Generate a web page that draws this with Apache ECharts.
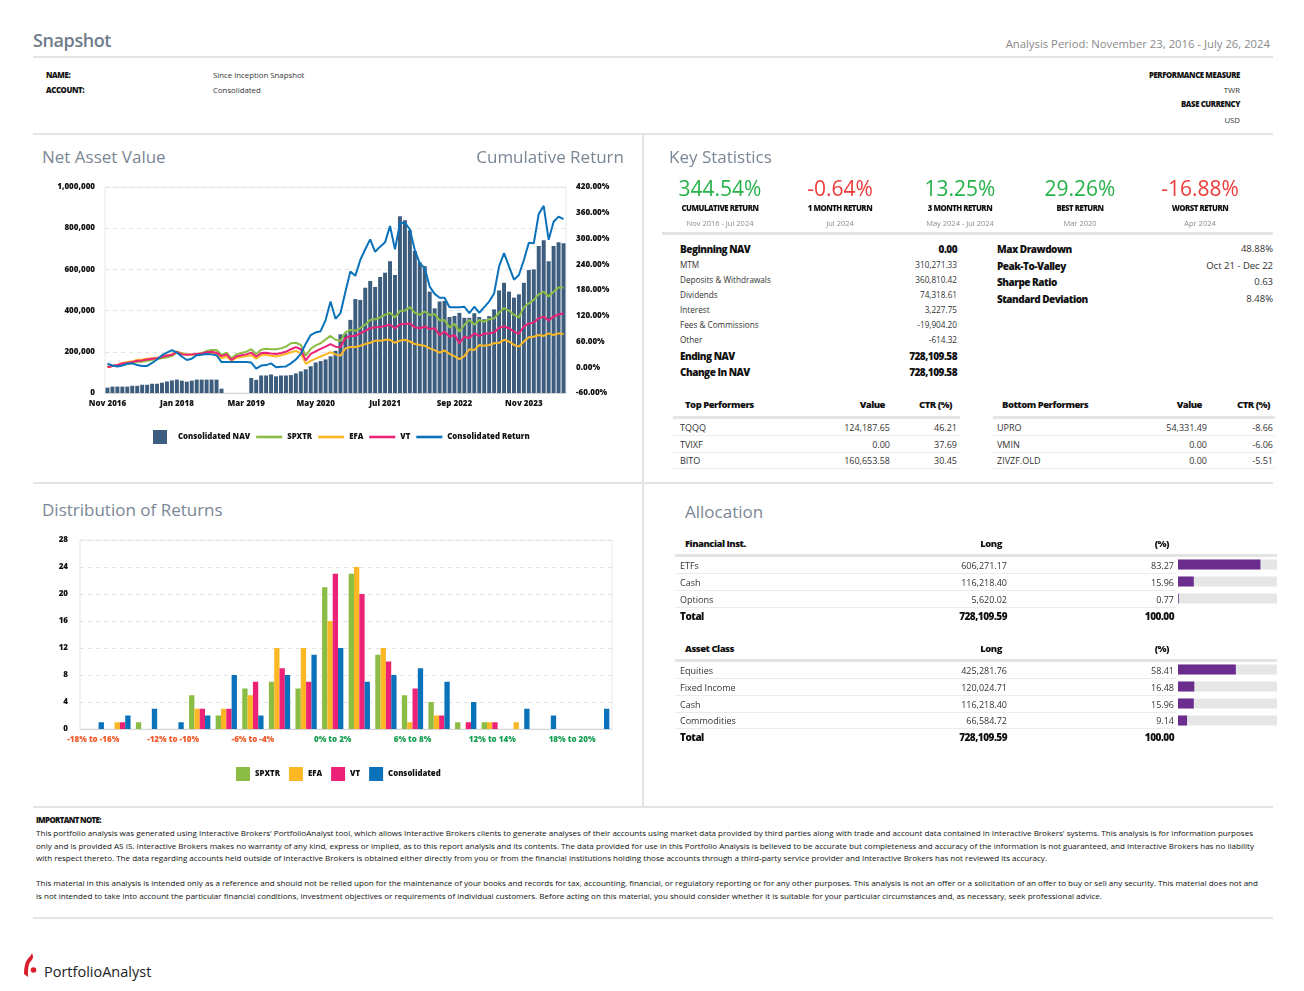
<!DOCTYPE html>
<html><head><meta charset="utf-8">
<script src="https://cdn.jsdelivr.net/npm/echarts@6/dist/echarts.min.js"></script>
<style>
html,body{margin:0;padding:0}
body{width:1304px;height:991px;background:#fff;font-family:'Open Sans',sans-serif;position:relative;overflow:hidden;color:#222}
.ln{position:absolute;background:#e4e4e4}
.ch{position:absolute}
</style></head>
<body>
<div id="nav" class="ch" style="left:33px;top:175px;width:610px;height:275px"></div>
<div id="dist" class="ch" style="left:33px;top:530px;width:607px;height:260px"></div>
<div id="allocFin" class="ch" style="left:1178px;top:556px;width:100px;height:51px"></div>
<div id="allocAsset" class="ch" style="left:1178px;top:661px;width:100px;height:68px"></div>
<svg style="position:absolute;left:20px;top:950px" width="20" height="32" viewBox="0 0 20 32">
  <path d="M12 3 C13 6 14 8 11 11 C8 14 8 20 8 27 L4 24 C4 18 5 13 7 10 C9 7 11 6 12 3 Z" fill="#d81e2a"/>
  <circle cx="13.5" cy="20" r="2.8" fill="#d81e2a"/>
</svg>
<script>
// ---------------- DATA ----------------
const monthNames = ['Jan','Feb','Mar','Apr','May','Jun','Jul','Aug','Sep','Oct','Nov','Dec'];
const months = [];
for (let i = 0; i < 93; i++) { const m = (10 + i) % 12; const y = 2016 + Math.floor((10 + i) / 12); months.push(monthNames[m] + ' ' + y); }

const navValues = [26000,31000,31000,31000,31000,35000,35000,40000,40000,45000,45000,50000,56000,61000,65000,60000,55000,60000,65000,65000,65000,65000,65000,21000,
0,0,0,0,0,
73000,64000,85000,85000,90000,81000,85000,85000,87000,95000,105000,115000,130000,148000,155000,163000,178000,205000,
285000,289000,355000,456000,452000,511000,544000,515000,563000,584000,640000,573000,
858000,839000,790000,689000,635000,616000,492000,411000,444000,447000,369000,374000,389000,365000,365000,387000,369000,358000,373000,406000,498000,535000,492000,463000,479000,535000,597000,600000,713000,742000,640000,713000,732000,727000];

const consReturn = [8,4,2,4,8,9,5,3,3,10,18,28,34,40,34,25,17,20,28,29,31,30,28,12,12,12,12,12,12,11,-3,4,5,9,0,1,2,9,18,31,55,75,81,84,110,153,113,126,176,223,213,250,275,298,269,281,291,329,275,335,337,321,273,242,231,188,171,162,162,140,140,140,141,126,141,127,140,153,172,235,266,235,204,215,250,290,289,357,376,297,339,351,345];
const spxtrReturn = [1,3,5,7,8,10,12,13,15,17,19,21,23,26,35,33,30,29,31,33,38,40,40,29,34,21,30,33,36,42,31,41,43,42,42,44,48,56,57,52,27,43,51,56,65,73,64,61,81,87,85,91,99,110,112,116,122,127,116,131,132,140,127,122,130,122,124,109,110,93,101,83,99,110,99,110,106,112,114,127,138,132,122,116,140,149,157,170,176,165,176,186,186];
const vtReturn = [0,3,5,9,10,12,15,16,18,20,21,24,27,29,36,30,29,30,31,32,35,36,34,26,30,17,25,28,30,34,25,33,34,32,31,33,36,42,47,42,16,31,37,43,48,54,48,47,68,73,73,79,85,91,93,94,96,99,91,100,101,102,93,91,95,89,91,75,83,71,75,56,71,68,79,73,78,79,81,92,95,91,83,78,95,102,104,114,118,109,118,123,126];
const efaReturn = [0,3,6,10,12,14,17,18,20,21,22,25,28,30,37,31,29,30,30,31,32,32,30,21,25,15,22,24,26,28,20,28,29,27,25,28,31,35,38,33,8,15,20,25,30,35,30,27,44,47,47,50,54,57,62,62,64,64,57,62,64,60,54,52,50,44,40,34,39,31,26,19,26,42,40,52,50,52,56,57,64,60,52,48,60,70,71,75,73,79,75,79,77];

const navTicks = [0, 200000, 400000, 600000, 800000, 1000000];

const distCats = ['-18% to -16%','-16% to -14%','-14% to -12%','-12% to -10%','-10% to -8%','-8% to -6%','-6% to -4%','-4% to -2%','-2% to 0%','0% to 2%','2% to 4%','4% to 6%','6% to 8%','8% to 10%','10% to 12%','12% to 14%','14% to 16%','16% to 18%','18% to 20%','20% to 22%'];
const distSpxtr = [0,0,1,0,5,2,6,7,6,21,23,11,5,4,1,1,0,0,0,0];
const distEfa   = [0,1,0,0,3,3,5,12,12,16,24,12,1,2,0,1,1,0,0,0];
const distVt    = [0,1,0,0,3,3,7,9,7,23,20,10,6,2,1,1,0,0,0,0];
const distCons  = [1,2,3,1,2,8,2,8,11,12,7,8,9,7,4,0,3,2,0,3];

const finInst = ['ETFs','Cash','Options'];
const finLong = ['606,271.17','116,218.40','5,620.02'];
const finPct = [83.27, 15.96, 0.77];
const assetClass = ['Equities','Fixed Income','Cash','Commodities'];
const assetLong = ['425,281.76','120,024.71','116,218.40','66,584.72'];
const assetPct = [58.41, 16.48, 15.96, 9.14];

const keyStats = [
  ['344.54%','CUMULATIVE RETURN','Nov 2016 - Jul 2024','#27b24a'],
  ['-0.64%','1 MONTH RETURN','Jul 2024','#ec3b3b'],
  ['13.25%','3 MONTH RETURN','May 2024 - Jul 2024','#27b24a'],
  ['29.26%','BEST RETURN','Mar 2020','#27b24a'],
  ['-16.88%','WORST RETURN','Apr 2024','#ec3b3b']
];
const navRows = [
  ['Beginning NAV','0.00',true],['MTM','310,271.33',false],['Deposits & Withdrawals','360,810.42',false],
  ['Dividends','74,318.61',false],['Interest','3,227.75',false],['Fees & Commissions','-19,904.20',false],
  ['Other','-614.32',false],['Ending NAV','728,109.58',true],['Change In NAV','728,109.58',true]
];
const riskRows = [['Max Drawdown','48.88%'],['Peak-To-Valley','Oct 21 - Dec 22'],['Sharpe Ratio','0.63'],['Standard Deviation','8.48%']];
const topPerf = [['TQQQ','124,187.65','46.21'],['TVIXF','0.00','37.69'],['BITO','160,653.58','30.45']];
const bottomPerf = [['UPRO','54,331.49','-8.66'],['VMIN','0.00','-6.06'],['ZIVZF.OLD','0.00','-5.51']];

// ---------------- HELPERS ----------------
function txt(x, y, s, o) {
  o = o || {};
  const size = o.size || 9;
  const d = document.createElement('div');
  d.textContent = s;
  d.style.cssText = 'position:absolute;white-space:nowrap;font-family:' + (o.f || "'Open Sans',sans-serif") +
    ';font-size:' + size + 'px;line-height:' + Math.round(size * 1.4) + 'px;font-weight:' + (o.w || 400) +
    ';color:' + (o.c || '#222') + ';letter-spacing:' + (o.ls || 0) + 'px;top:' + (y - size * 0.7) + 'px;';
  if (o.a === 'right') d.style.right = (1304 - x) + 'px';
  else if (o.a === 'center') { d.style.left = x + 'px'; d.style.transform = 'translateX(-50%)'; }
  else d.style.left = x + 'px';
  document.body.appendChild(d);
  return d;
}
function line(x1, x2, y, h, c) {
  const d = document.createElement('div'); d.className = 'ln';
  d.style.cssText += 'left:' + x1 + 'px;top:' + y + 'px;width:' + (x2 - x1) + 'px;height:' + h + 'px;background:' + (c || '#e4e4e4');
  document.body.appendChild(d);
}
function vline(x, y1, y2, w, c) {
  const d = document.createElement('div'); d.className = 'ln';
  d.style.cssText += 'left:' + x + 'px;top:' + y1 + 'px;width:' + w + 'px;height:' + (y2 - y1) + 'px;background:' + (c || '#e4e4e4');
  document.body.appendChild(d);
}
const titleC = '#7a8795';
const HB = 800; // heavy bold weight

// ---------------- HEADER ----------------
txt(33, 41, 'Snapshot', {size:18, w:600, c:'#6f7c8a', ls:-0.4});
txt(1270, 44, 'Analysis Period: November 23, 2016 - July 26, 2024', {size:11.3, c:'#8a8a8a', a:'right'});
line(33, 1273, 56, 2);
txt(46, 75, 'NAME:', {size:7.8, w:HB, ls:-0.4, c:'#111'});
txt(46, 90, 'ACCOUNT:', {size:7.8, w:HB, ls:-0.4, c:'#111'});
txt(213, 75, 'Since Inception Snapshot', {size:7.8, c:'#333'});
txt(213, 90, 'Consolidated', {size:7.8, c:'#333'});
txt(1240, 75, 'PERFORMANCE MEASURE', {size:7.8, w:HB, ls:-0.4, c:'#111', a:'right'});
txt(1240, 90, 'TWR', {size:7.8, c:'#333', a:'right'});
txt(1240, 104, 'BASE CURRENCY', {size:7.8, w:HB, ls:-0.4, c:'#111', a:'right'});
txt(1240, 120, 'USD', {size:7.8, c:'#333', a:'right'});
line(33, 1273, 133, 2);
vline(642, 135, 806, 2);
line(33, 1273, 482, 2);
line(33, 1273, 806, 2);
line(33, 1273, 917, 2);

// ---------------- SECTION TITLES ----------------
txt(42, 157, 'Net Asset Value', {size:17, c:titleC});
txt(624, 157, 'Cumulative Return', {size:17, c:titleC, a:'right'});
txt(669, 157, 'Key Statistics', {size:17, c:titleC});
txt(42, 510, 'Distribution of Returns', {size:17, c:titleC});
txt(685, 512, 'Allocation', {size:17, c:titleC});

// ---------------- KEY STATS ----------------
keyStats.forEach((k, i) => {
  const cx = 720 + i * 120;
  txt(cx, 189, k[0], {size:21, c:k[3], a:'center', w:400});
  txt(cx, 208, k[1], {size:7.8, w:HB, ls:-0.5, c:'#111', a:'center'});
  txt(cx, 223, k[2], {size:7.5, c:'#8c8c8c', a:'center'});
});
line(662, 1273, 232, 3);
const navY = [249, 265, 280, 295, 310, 325, 340, 356, 372];
navRows.forEach((r, i) => {
  if (r[2]) { txt(680, navY[i], r[0], {size:10, w:HB, ls:-0.5, c:'#111'}); txt(957, navY[i], r[1], {size:10, w:HB, ls:-0.5, c:'#111', a:'right'}); }
  else { txt(680, navY[i], r[0], {size:8.2, c:'#333'}); txt(957, navY[i], r[1], {size:8.2, c:'#333', a:'right'}); }
});
const riskY = [249, 266, 282, 299];
riskRows.forEach((r, i) => {
  txt(997, riskY[i], r[0], {size:10, w:HB, ls:-0.5, c:'#111'});
  txt(1273, riskY[i], r[1], {size:9.5, c:'#333', a:'right'});
});
// performers
txt(685, 405, 'Top Performers', {size:9.5, w:HB, ls:-0.5, c:'#111'});
txt(885, 405, 'Value', {size:9.5, w:HB, ls:-0.5, c:'#111', a:'right'});
txt(952, 405, 'CTR (%)', {size:9.5, w:HB, ls:-0.5, c:'#111', a:'right'});
line(673, 960, 416, 3);
txt(1002, 405, 'Bottom Performers', {size:9.5, w:HB, ls:-0.5, c:'#111'});
txt(1202, 405, 'Value', {size:9.5, w:HB, ls:-0.5, c:'#111', a:'right'});
txt(1270, 405, 'CTR (%)', {size:9.5, w:HB, ls:-0.5, c:'#111', a:'right'});
line(993, 1275, 416, 3);
const perfY = [427, 444, 460];
perfY.forEach((y, i) => {
  txt(680, y, topPerf[i][0], {size:9, c:'#333'});
  txt(890, y, topPerf[i][1], {size:9, c:'#333', a:'right'});
  txt(957, y, topPerf[i][2], {size:9, c:'#333', a:'right'});
  txt(997, y, bottomPerf[i][0], {size:9, c:'#333'});
  txt(1207, y, bottomPerf[i][1], {size:9, c:'#333', a:'right'});
  txt(1273, y, bottomPerf[i][2], {size:9, c:'#333', a:'right'});
  line(673, 960, y + 8, 1, '#ececec');
  line(993, 1275, y + 8, 1, '#ececec');
});

// ---------------- ALLOCATION TABLES ----------------
function allocTable(headY, title, names, longs, pcts, rowY, totalY) {
  txt(685, headY, title, {size:9.5, w:HB, ls:-0.5, c:'#111'});
  txt(1002, headY, 'Long', {size:9.5, w:HB, ls:-0.5, c:'#111', a:'right'});
  txt(1169, headY, '(%)', {size:9.5, w:HB, ls:-0.5, c:'#111', a:'right'});
  line(675, 1277, headY + 10, 3);
  names.forEach((n, i) => {
    txt(680, rowY[i], n, {size:9, c:'#333'});
    txt(1007, rowY[i], longs[i], {size:9, c:'#333', a:'right'});
    txt(1174, rowY[i], pcts[i].toFixed(2), {size:9, c:'#333', a:'right'});
    line(675, 1176, rowY[i] + 8, 1, '#ececec');
  });
  txt(680, totalY, 'Total', {size:10, w:HB, ls:-0.5, c:'#111'});
  txt(1007, totalY, '728,109.59', {size:10, w:HB, ls:-0.5, c:'#111', a:'right'});
  txt(1174, totalY, '100.00', {size:10, w:HB, ls:-0.5, c:'#111', a:'right'});
}
allocTable(544, 'Financial Inst.', finInst, finLong, finPct, [565, 582, 599], 616);
allocTable(649, 'Asset Class', assetClass, assetLong, assetPct, [670, 687, 704, 720], 737);

// ---------------- FOOTER ----------------
txt(36, 820, 'IMPORTANT NOTE:', {size:7.8, w:HB, ls:-0.6, c:'#111'});
const footLines = [
  [833, 1253, "This portfolio analysis was generated using Interactive Brokers' PortfolioAnalyst tool, which allows Interactive Brokers clients to generate analyses of their accounts using market data provided by third parties along with trade and account data contained in Interactive Brokers' systems. This analysis is for information purposes"],
  [846, 1254, "only and is provided AS IS. Interactive Brokers makes no warranty of any kind, express or implied, as to this report analysis and its contents. The data provided for use in this Portfolio Analysis is believed to be accurate but completeness and accuracy of the information is not guaranteed, and Interactive Brokers has no liability"],
  [858, 1047, "with respect thereto. The data regarding accounts held outside of Interactive Brokers is obtained either directly from you or from the financial institutions holding those accounts through a third-party service provider and Interactive Brokers has not reviewed its accuracy."],
  [883, 1258, "This material in this analysis is intended only as a reference and should not be relied upon for the maintenance of your books and records for tax, accounting, financial, or regulatory reporting or for any other purposes. This analysis is not an offer or a solicitation of an offer to buy or sell any security. This material does not and"],
  [896, 1102, "is not intended to take into account the particular financial conditions, investment objectives or requirements of individual customers. Before acting on this material, you should consider whether it is suitable for your particular circumstances and, as necessary, seek professional advice."]
];
footLines.forEach(f => {
  const d = txt(36, f[0], f[2], {size:7.8, c:'#111'});
  const w = d.getBoundingClientRect().width;
  const target = f[1] - 36;
  d.style.transformOrigin = '0 50%';
  d.style.transform = 'scaleX(' + (target / w).toFixed(4) + ')';
});
txt(44, 972, 'PortfolioAnalyst', {size:14.5, c:'#222'});

// ---------------- NAV CHART ----------------
const axisFont = {fontFamily:'Open Sans', fontSize:8, fontWeight:800, color:'#111'};
const C = {nav:'#3d5d7e', spx:'#8bbd45', efa:'#fbb724', vt:'#ec2277', cons:'#0a72bb'};
const navChart = echarts.init(document.getElementById('nav'), null, {renderer:'canvas'});
function lineSeries(name, data, color) {
  return {name:name, type:'line', yAxisIndex:1, data:data, symbol:'none', showSymbol:false, lineStyle:{width:2, color:color}, itemStyle:{color:color}};
}
const lineIcon = 'path://M0,0H26V2.6H0Z';
navChart.setOption({
  animation:false,
  textStyle:{fontFamily:'Open Sans'},
  grid:{left:72, right:77, top:12, bottom:57, show:true, borderColor:'#e8e8e8', borderWidth:1},
  legend:{
    left:115, top:250, itemWidth:26, itemHeight:14, itemGap:6,
    textStyle:{fontFamily:'Open Sans', fontSize:7.8, fontWeight:800, color:'#111'},
    data:[{name:'Consolidated NAV', icon:'path://M0,0H14V14H0Z'},
      {name:'SPXTR', icon:lineIcon}, {name:'EFA', icon:lineIcon}, {name:'VT', icon:lineIcon}, {name:'Consolidated Return', icon:lineIcon}]
  },
  xAxis:{type:'category', data:months, boundaryGap:true,
    axisTick:{show:false}, axisLine:{lineStyle:{color:'#d5d5d5'}},
    axisLabel:Object.assign({interval:13, margin:7}, axisFont)},
  yAxis:[
    {type:'value', min:navTicks[0], max:navTicks[navTicks.length-1], interval:navTicks[1]-navTicks[0],
     axisLabel:Object.assign({margin:10, formatter:v => v.toLocaleString('en-US')}, axisFont),
     axisLine:{show:false}, axisTick:{show:false},
     splitLine:{lineStyle:{type:[4,4], color:'#e2e2e2'}}},
    {type:'value', min:-60, max:420, interval:60,
     axisLabel:Object.assign({margin:10, formatter:v => v.toFixed(2) + '%'}, axisFont),
     axisLine:{show:false}, axisTick:{show:false}, splitLine:{show:false}}
  ],
  series:[
    {name:'Consolidated NAV', type:'bar', data:navValues, barWidth:'80%', itemStyle:{color:C.nav}},
    lineSeries('SPXTR', spxtrReturn, C.spx),
    lineSeries('EFA', efaReturn, C.efa),
    lineSeries('VT', vtReturn, C.vt),
    lineSeries('Consolidated Return', consReturn, C.cons)
  ]
});

// ---------------- DISTRIBUTION CHART ----------------
const distChart = echarts.init(document.getElementById('dist'));
function distBar(name, data, color) { return {name:name, type:'bar', data:data, itemStyle:{color:color}, barGap:'0%', barCategoryGap:'20%'}; }
distChart.setOption({
  animation:false,
  textStyle:{fontFamily:'Open Sans'},
  grid:{left:47, right:28, top:10, bottom:61, show:true, borderColor:'#e8e8e8', borderWidth:1},
  legend:{left:198, top:232, itemWidth:14, itemHeight:14, itemGap:9, icon:'rect',
    textStyle:{fontFamily:'Open Sans', fontSize:7.8, fontWeight:800, color:'#111'},
    data:['SPXTR','EFA','VT','Consolidated']},
  xAxis:{type:'category', data:distCats, axisTick:{show:false}, axisLine:{lineStyle:{color:'#d5d5d5'}},
    axisLabel:{interval:2, margin:7, fontFamily:'Open Sans', fontSize:8, fontWeight:800,
      color:(v) => (v.charAt(0) === '-' ? '#f15a29' : '#17a052')}},
  yAxis:{type:'value', min:0, max:28, interval:4,
    axisLabel:Object.assign({margin:12}, axisFont), axisLine:{show:false}, axisTick:{show:false},
    splitLine:{lineStyle:{type:[4,4], color:'#e2e2e2'}}},
  series:[distBar('SPXTR', distSpxtr, C.spx), distBar('EFA', distEfa, C.efa), distBar('VT', distVt, C.vt), distBar('Consolidated', distCons, C.cons)]
});

// ---------------- ALLOCATION BARS ----------------
function allocBars(id, names, pcts) {
  const ch = echarts.init(document.getElementById(id));
  ch.setOption({
    animation:false,
    grid:{left:0, right:1, top:0, bottom:0},
    xAxis:{type:'value', min:0, max:100, show:false},
    yAxis:{type:'category', data:names, inverse:true, show:false},
    series:[{type:'bar', data:pcts, barWidth:10, showBackground:true,
      backgroundStyle:{color:'#e6e6e6'}, itemStyle:{color:'#6a2d8e'}}]
  });
}
allocBars('allocFin', finInst, finPct);
allocBars('allocAsset', assetClass, assetPct);
</script>
</body></html>
